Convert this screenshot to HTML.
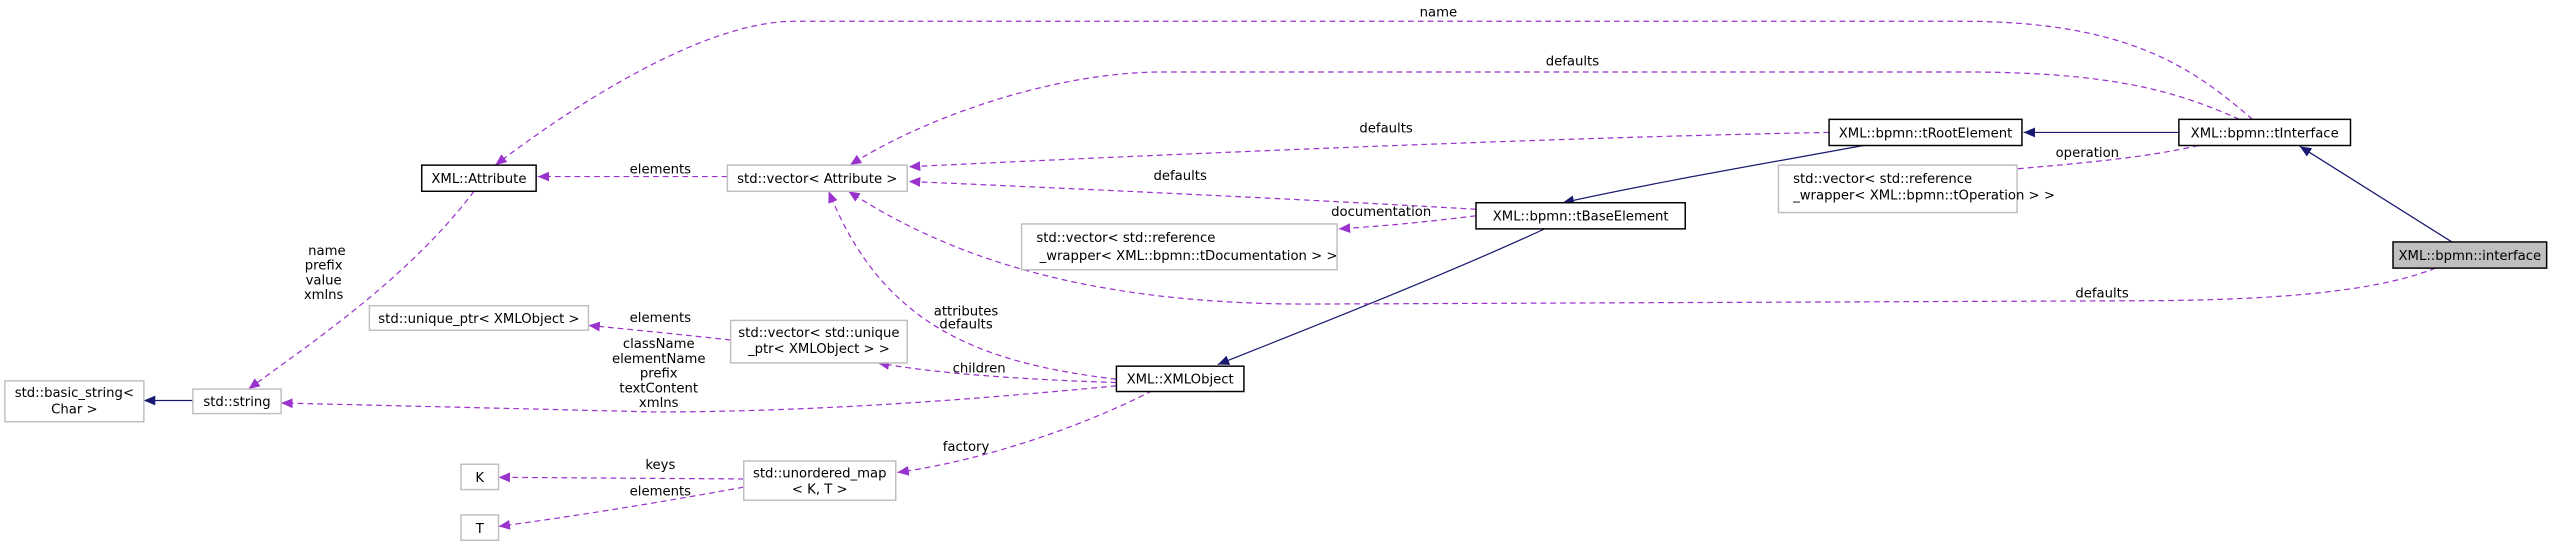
<!DOCTYPE html>
<html><head><meta charset="utf-8"><style>
html,body{margin:0;padding:0;background:#fff;width:2563px;height:547px;overflow:hidden}
svg{display:block}
text{font-family:"DejaVu Sans","Liberation Sans",sans-serif;font-size:8.1px;fill:#000}
.p{fill:none;stroke:#9a32cd;stroke-width:0.75;stroke-dasharray:3.5,2.5}
.n{fill:none;stroke:#191970;stroke-width:0.75}
.b{fill:#fff;stroke:#000;stroke-width:0.9}
.g{fill:#fff;stroke:#bfbfbf;stroke-width:0.9}
</style></head><body>
<svg width="2563" height="547" viewBox="0 0 1568 334.6" xmlns="http://www.w3.org/2000/svg">
<defs>
<marker id="ap" markerWidth="8" markerHeight="8" refX="7" refY="3" orient="auto" markerUnits="userSpaceOnUse"><path d="M0,0 L7,3 L0,6 z" fill="#9a32cd"/></marker>
<marker id="an" markerWidth="8" markerHeight="8" refX="7" refY="3" orient="auto" markerUnits="userSpaceOnUse"><path d="M0,0 L7,3 L0,6 z" fill="#191970"/></marker>
</defs>
<!-- navy inheritance -->
<path class="n" d="M1500,148 L1407,89.5" marker-end="url(#an)"/>
<path class="n" d="M1333,81 L1238,81" marker-end="url(#an)"/>
<path class="n" d="M1140,89 C1080,100 1010,112 956,124" marker-end="url(#an)"/>
<path class="n" d="M945,140 C880,170 790,205 745,223" marker-end="url(#an)"/>
<path class="n" d="M118,245 L88,245" marker-end="url(#an)"/>
<!-- purple edges -->
<path class="p" d="M1345,89 C1310,97 1270,100 1226,104" marker-end="url(#ap)"/>
<path class="p" d="M1378,73 C1340,40 1300,13 1200,13 L486,13 C430,13 350,65 303,101" marker-end="url(#ap)"/>
<path class="p" d="M1370,73 C1330,55 1290,44 1200,44 L712,44 C640,44 560,75 520,101" marker-end="url(#ap)"/>
<path class="p" d="M1119,81 C950,84 700,95 556,102" marker-end="url(#ap)"/>
<path class="p" d="M903,128 C800,122 650,115 556,111" marker-end="url(#ap)"/>
<path class="p" d="M903,132 C870,136 850,138 819,140" marker-end="url(#ap)"/>
<path class="p" d="M1490,164 C1450,180 1380,184 1300,184 L800,186 C650,186 570,150 519,117" marker-end="url(#ap)"/>
<path class="p" d="M445,108 L329,108" marker-end="url(#ap)"/>
<path class="p" d="M683,232 C600,222 540,200 507,117" marker-end="url(#ap)"/>
<path class="p" d="M683,234 C620,232 570,228 537,222" marker-end="url(#ap)"/>
<path class="p" d="M447,208 C420,205 390,202 360,199" marker-end="url(#ap)"/>
<path class="p" d="M683,236 C600,244 500,252 400,252 L172,246.5" marker-end="url(#ap)"/>
<path class="p" d="M290,117 C250,170 190,210 152,238" marker-end="url(#ap)"/>
<path class="p" d="M705,239 C660,262 600,282 549,289" marker-end="url(#ap)"/>
<path class="p" d="M455,293 L305,292" marker-end="url(#ap)"/>
<path class="p" d="M455,298 C400,308 350,316 305,322" marker-end="url(#ap)"/>
<!-- labels -->
<g text-anchor="middle">
<text x="880" y="10">name</text>
<text x="962" y="40">defaults</text>
<text x="848" y="81">defaults</text>
<text x="722" y="110">defaults</text>
<text x="845" y="132">documentation</text>
<text x="1277" y="96">operation</text>
<text x="1286" y="182">defaults</text>
<text x="404" y="106">elements</text>
<text x="591" y="193">attributes</text>
<text x="591" y="201">defaults</text>
<text x="599" y="228">children</text>
<text x="404" y="197">elements</text>
<text x="403" y="213">className</text>
<text x="403" y="222">elementName</text>
<text x="403" y="231">prefix</text>
<text x="403" y="240">textContent</text>
<text x="403" y="249">xmlns</text>
<text x="200" y="156">name</text>
<text x="198" y="165">prefix</text>
<text x="198" y="174">value</text>
<text x="198" y="183">xmlns</text>
<text x="591" y="276">factory</text>
<text x="404" y="287">keys</text>
<text x="404" y="303">elements</text>
</g>
<!-- nodes -->
<rect x="1464" y="148" width="94" height="16" fill="#bfbfbf" stroke="#000" stroke-width="0.9"/>
<text x="1511" y="159" text-anchor="middle">XML::bpmn::interface</text>
<rect class="b" x="1333" y="73" width="105" height="16"/>
<text x="1385.5" y="84" text-anchor="middle">XML::bpmn::tInterface</text>
<rect class="b" x="1119" y="73" width="118" height="16"/>
<text x="1178" y="84" text-anchor="middle">XML::bpmn::tRootElement</text>
<rect class="g" x="1088" y="101" width="146" height="29"/>
<text x="1097" y="112">std::vector&lt; std::reference</text>
<text x="1097" y="122">_wrapper&lt; XML::bpmn::tOperation &gt; &gt;</text>
<rect class="b" x="903" y="124" width="128" height="16"/>
<text x="967" y="135" text-anchor="middle">XML::bpmn::tBaseElement</text>
<rect class="g" x="625" y="137" width="193" height="28"/>
<text x="634" y="148">std::vector&lt; std::reference</text>
<text x="636" y="159">_wrapper&lt; XML::bpmn::tDocumentation &gt; &gt;</text>
<rect class="g" x="445" y="101" width="110" height="16"/>
<text x="500" y="112" text-anchor="middle">std::vector&lt; Attribute &gt;</text>
<rect class="b" x="258" y="101" width="70" height="16"/>
<text x="293" y="112" text-anchor="middle">XML::Attribute</text>
<rect class="g" x="226" y="187" width="134" height="15"/>
<text x="293" y="197.5" text-anchor="middle">std::unique_ptr&lt; XMLObject &gt;</text>
<rect class="g" x="447" y="196" width="108" height="26"/>
<text x="501" y="206" text-anchor="middle">std::vector&lt; std::unique</text>
<text x="501" y="216" text-anchor="middle">_ptr&lt; XMLObject &gt; &gt;</text>
<rect class="b" x="683" y="224" width="78" height="15.5"/>
<text x="722" y="234.5" text-anchor="middle">XML::XMLObject</text>
<rect class="g" x="118" y="238" width="54" height="15"/>
<text x="145" y="248.5" text-anchor="middle">std::string</text>
<rect class="g" x="3" y="233" width="85" height="25"/>
<text x="45.5" y="243" text-anchor="middle">std::basic_string&lt;</text>
<text x="45.5" y="253" text-anchor="middle">Char &gt;</text>
<rect class="g" x="282" y="284" width="23" height="15.5"/>
<text x="293.5" y="295" text-anchor="middle">K</text>
<rect class="g" x="282" y="315" width="23" height="15.5"/>
<text x="293.5" y="326" text-anchor="middle">T</text>
<rect class="g" x="455" y="282" width="93" height="24"/>
<text x="501.5" y="292" text-anchor="middle">std::unordered_map</text>
<text x="501.5" y="302" text-anchor="middle">&lt; K, T &gt;</text>
</svg>
</body></html>
